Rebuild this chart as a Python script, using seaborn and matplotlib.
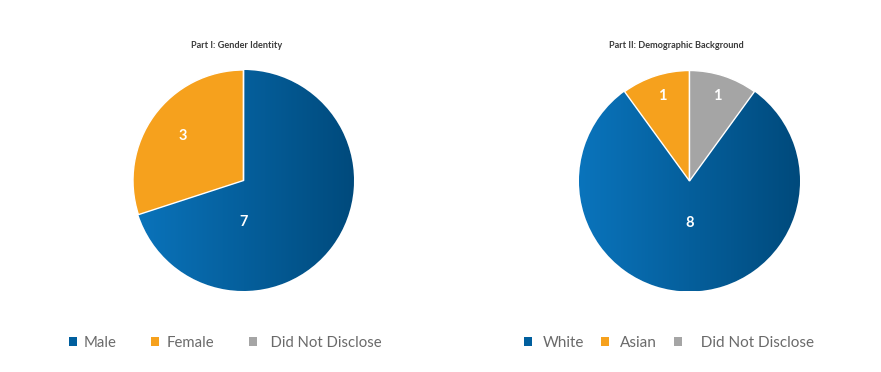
import numpy as np
import matplotlib
matplotlib.use("Agg")
import matplotlib.pyplot as plt
from matplotlib.patches import Patch
import seaborn as sns

# ---- data ----
gender_title = "Part I: Gender Identity"
gender_labels = ["Male", "Female", "Did Not Disclose"]
gender_values = [7, 3, 0]

demo_title = "Part II: Demographic Background"
demo_labels = ["White", "Asian", "Did Not Disclose"]
demo_values = [8, 1, 1]

# ---- style ----
sns.set_theme(style="white")
plt.rcParams['font.family'] = ['Lato', 'DejaVu Sans']

BLUE = "#005f9e"
ORANGE = "#f6a11d"
GRAY = "#a5a5a5"
colors = [BLUE, ORANGE, GRAY]
blue_cmap = matplotlib.colors.LinearSegmentedColormap.from_list("bg", ["#0a74bc", "#004a7c"])

fig = plt.figure(figsize=(8.81, 3.72), dpi=100)
W, H = 881, 372
R = 110.5


def make_axes(cx, cy):
    return fig.add_axes([(cx - R) / W, (H - cy - R) / H, 2 * R / W, 2 * R / H])


def draw_pie(ax, values, startangle, label_pos):
    wedges, _ = ax.pie(values, colors=colors, startangle=startangle, counterclock=False,
                       radius=1.0, wedgeprops=dict(edgecolor="white", linewidth=1.0))
    ax.set_xlim(-1.0, 1.0)
    ax.set_ylim(-1.0, 1.0)
    ax.set_aspect("equal")
    ax.axis("off")
    grad = np.linspace(0, 1, 256).reshape(1, -1)
    im = ax.imshow(grad, cmap=blue_cmap, extent=[-1, 1, -1, 1], aspect="auto",
                   zorder=wedges[0].get_zorder() + 0.1)
    im.set_clip_path(wedges[0])
    im.set_clip_on(True)
    for w in wedges[1:]:
        w.set_zorder(w.get_zorder() + 1)
    for w in wedges:
        w.set_clip_on(False)
    for w, v, (lx, ly) in zip(wedges, values, label_pos):
        if v <= 0:
            continue
        if lx is None:
            ang = np.deg2rad((w.theta1 + w.theta2) / 2)
            lx, ly = ly * np.cos(ang), ly * np.sin(ang)
        ax.text(lx, ly, str(v), ha="center", va="center", color="white",
                fontsize=10.5, fontweight="bold", zorder=10)
    return wedges


ax1 = make_axes(243.5, 180.5)
draw_pie(ax1, gender_values, 90, [(0.0, -0.38), (None, 0.68), (None, 0.7)])
fig.text(237 / W, 1 - 46 / H, gender_title, ha="center", va="center",
         fontsize=6.6, fontweight="bold", color="#3a3a3a")

ax2 = make_axes(689.5, 181)
draw_pie(ax2, demo_values, 54, [(0.0, -0.38), (None, 0.81), (None, 0.81)])
fig.text(676 / W, 1 - 46 / H, demo_title, ha="center", va="center",
         fontsize=6.6, fontweight="bold", color="#3a3a3a")


def legend(labels, x0, size, colspace, textpad):
    handles = [Patch(facecolor=c, edgecolor="none") for c in colors]
    labs = [labels[0], labels[1], "  " + labels[2]]
    fig.legend(handles, labs, loc="center left", bbox_to_anchor=(x0 / W, 1 - 343 / H),
               ncol=3, frameon=False, fontsize=size, handlelength=8 * 72 / 100 / size,
               handleheight=8 * 72 / 100 / size,
               handletextpad=textpad, columnspacing=colspace, labelcolor="#6a6a6a",
               borderpad=0, borderaxespad=0)


legend(gender_labels, 69, 10.7, 2.35, 0.45)
legend(demo_labels, 524, 11.0, 1.15, 0.68)

fig.savefig("out.png", dpi=100)
